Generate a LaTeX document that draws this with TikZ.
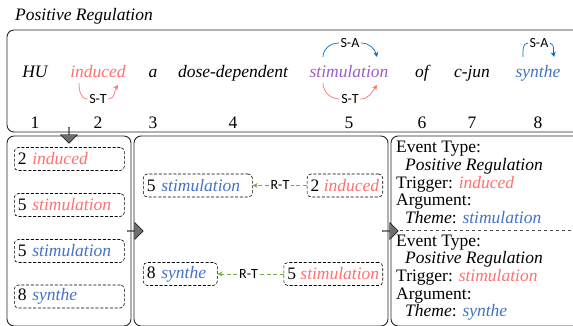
\documentclass[tikz,border=0pt]{standalone}
\usepackage{fontspec}
\setmainfont{Liberation Serif}[ItalicFont={Liberation Serif Italic}]
\setsansfont{Carlito}
\usetikzlibrary{positioning,shapes.arrows,arrows.meta,calc}
\definecolor{trig}{HTML}{FF7070}
\definecolor{evt}{HTML}{A05CC8}
\definecolor{arg}{HTML}{4472C4}
\definecolor{sablue}{HTML}{0070C0}
\definecolor{rtgreen}{HTML}{70AD47}
\definecolor{blockgray}{HTML}{6E6E6E}

\tikzset{
  panel/.style={draw=black!85, line width=0.9pt, rounded corners=7pt},
  cand/.style={draw=black, dash pattern=on 3pt off 1.8pt, line width=0.6pt, rounded corners=4pt,
    inner sep=3.5pt, minimum height=23pt, align=left},
  word/.style={anchor=base, inner sep=0pt, font=\itshape},
  num/.style={anchor=base, inner sep=0pt},
  rel/.style={font=\sffamily\fontsize{14}{14}\selectfont, inner sep=1.5pt},
  starc/.style={trig, line width=0.7pt},
  saarc/.style={sablue, line width=0.7pt},
  rtline/.style={rtgreen, line width=0.9pt, dash pattern=on 4pt off 2.5pt},
  evtext/.style={anchor=north west, align=left, inner sep=0pt},
  blockarrow/.style={single arrow, draw=black, fill=blockgray, minimum height=16pt,
    minimum width=17pt, single arrow head extend=3.5pt, inner sep=0pt},
}

\begin{document}
\fontsize{17.5}{17.7}\selectfont
\begin{tikzpicture}[x=1pt, y=1pt]
    \clip (0,0) rectangle (573,325);

    % Title
    \node[anchor=base west, inner sep=0pt, font=\itshape] (title) at (15,305) {Positive Regulation};

    % Sentence box
    \draw[panel] (7,193) rectangle (620,295);
    \foreach \i/\x/\c/\w in {1/35/black/HU, 2/98/trig/induced, 3/153/black/a,
        4/233/black/dose-dependent, 5/349/evt/stimulation, 6/422/black/of,
        7/472/black/c-jun, 8/538/arg/synthe} {
        \node[word, text=\c] (w\i) at (\x,248) {\w};
        \node[num] (n\i) at (\x,197) {\i};
    }

    % Relation arcs
    \node[rel] (st2) at (98,226) {S-T};
    \coordinate (st2s) at (79,242);
    \coordinate (st2e) at (118,240);
    \draw[starc] (st2s) to[out=-90, in=180] (st2.west);
    \draw[starc, -{Stealth[length=5pt, width=5pt]}] (st2.east) to[out=0, in=-125] (st2e);

    \node[rel] (st5) at (350,226) {S-T};
    \coordinate (st5s) at (323,242);
    \coordinate (st5e) at (377,240);
    \draw[starc] (st5s) to[out=-90, in=180] (st5.west);
    \draw[starc, -{Stealth[length=5pt, width=5pt]}] (st5.east) to[out=0, in=-125] (st5e);

    \node[rel] (sa5) at (350,282) {S-A};
    \coordinate (sa5s) at (323,268);
    \coordinate (sa5e) at (377,268);
    \draw[saarc] (sa5s) to[out=90, in=180] (sa5.west);
    \draw[saarc, -{Stealth[length=5pt, width=5pt]}] (sa5.east) to[out=0, in=105] (sa5e);

    \node[rel] (sa8) at (539,282) {S-A};
    \coordinate (sa8s) at (523,268);
    \coordinate (sa8e) at (554,268);
    \draw[saarc] (sa8s) to[out=90, in=180] (sa8.west);
    \draw[saarc, -{Stealth[length=5pt, width=5pt]}] (sa8.east) to[out=-20, in=100] (sa8e);

    % Panels
    \draw[panel] (7,-1) rectangle (131,189);
    \draw[panel] (134,-1) rectangle (388,189);
    \draw[panel] (391,-1) rectangle (620,189);

    % Candidates
    \foreach \y/\n/\c/\w [count=\k] in {166/2/trig/induced, 120/5/trig/stimulation,
        74/5/arg/stimulation, 28.5/8/arg/synthe} {
        \node[cand, anchor=west, text width=103pt] (c\k) at (14,\y) {\n\ \textcolor{\c}{\textit{\w}}};
    }

    % Pairs
    \node[cand, anchor=west, text width=102pt] (arg1) at (143,139.5) {5 \textcolor{arg}{\textit{stimulation}}};
    \node[cand, anchor=east] (trg1) at (383,139.5) {2 \textcolor{trig}{\textit{induced}}};
    \node[rel] (rt1) at (280,139.5) {R-T};
    \draw[rtline] (trg1.west) -- (rt1.east);
    \draw[rtline, -{Stealth[length=5pt, width=5pt]}] (rt1.west) -- (arg1.east);

    \node[cand, anchor=west, text width=67pt] (arg2) at (143,51) {8 \textcolor{arg}{\textit{synthe}}};
    \node[cand, anchor=east] (trg2) at (383,51) {5 \textcolor{trig}{\textit{stimulation}}};
    \node[rel] (rt2) at (248.5,51) {R-T};
    \draw[rtline] (trg2.west) -- (rt2.east);
    \draw[rtline, -{Stealth[length=5pt, width=5pt]}] (rt2.west) -- (arg2.east);

    % Events
    \node[evtext] (ev1) at (396,184) {Event Type:\\\hspace*{9pt}\textit{Positive Regulation}\\
        Trigger: \textcolor{trig}{\textit{induced}}\\Argument:\\
        \hspace*{9pt}\textit{Theme}: \textcolor{arg}{\textit{stimulation}}};
    \draw[black!70, dashed, line width=0.8pt] (394,95) -- (580,95);
    \node[evtext] (ev2) at (396,90.5) {Event Type:\\\hspace*{9pt}\textit{Positive Regulation}\\
        Trigger: \textcolor{trig}{\textit{stimulation}}\\Argument:\\
        \hspace*{9pt}\textit{Theme}: \textcolor{arg}{\textit{synthe}}};

    % Block arrows
    \node[blockarrow, rotate=-90] (down) at (69,190) {};
    \node[blockarrow] (to2) at (135,94) {};
    \node[blockarrow] (to3) at (390,94) {};
\end{tikzpicture}
\end{document}
